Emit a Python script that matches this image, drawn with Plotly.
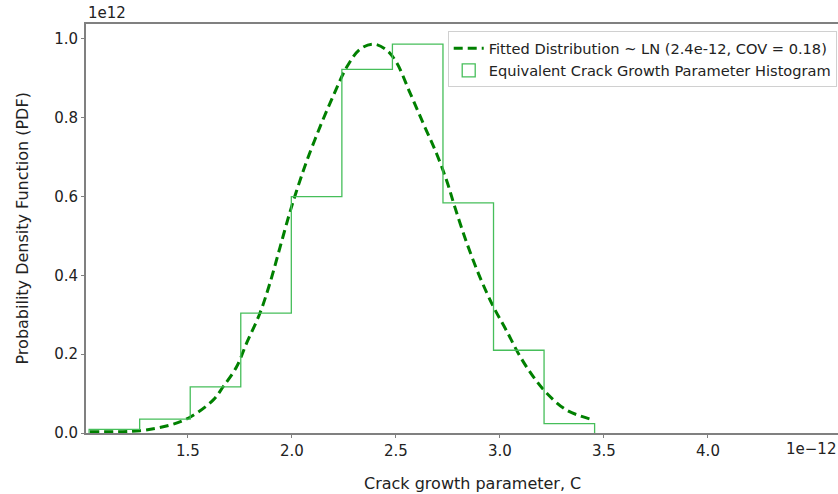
import plotly.graph_objects as go

# Histogram (x in units of 1e-12, density in units of 1e12)
bin_edges = [1.025, 1.268, 1.511, 1.754, 1.997, 2.240, 2.483, 2.726, 2.969, 3.212, 3.455]
bin_heights = [0.009, 0.035, 0.117, 0.304, 0.600, 0.923, 0.987, 0.584, 0.210, 0.024]

# Fitted lognormal curve
curve_x = [1.029, 1.269, 1.413, 1.51, 1.622, 1.67, 1.734, 1.782, 1.846, 1.894, 1.942, 1.99,
           2.03, 2.071, 2.135, 2.199, 2.263, 2.327, 2.391, 2.455, 2.503, 2.567, 2.631, 2.696,
           2.744, 2.784, 2.84, 2.904, 2.968, 3.032, 3.096, 3.16, 3.225, 3.321, 3.449]
curve_y = [0.003, 0.006, 0.020, 0.040, 0.084, 0.118, 0.168, 0.228, 0.304, 0.380, 0.470, 0.560,
           0.627, 0.690, 0.777, 0.856, 0.928, 0.974, 0.987, 0.972, 0.940, 0.864, 0.786, 0.708,
           0.640, 0.572, 0.483, 0.395, 0.321, 0.259, 0.195, 0.143, 0.101, 0.058, 0.033]

x_ticks = [1.5, 2.0, 2.5, 3.0, 3.5, 4.0]
y_ticks = [0.0, 0.2, 0.4, 0.6, 0.8, 1.0]

fit_label = "Fitted Distribution ~ LN (2.4e-12, COV = 0.18)"
hist_label = "Equivalent Crack Growth Parameter Histogram"

hist_color = "rgb(70,190,90)"
fit_color = "#008000"
font_main = "DejaVu Sans"

step_x = [bin_edges[0]] + bin_edges
step_y = [0] + bin_heights + [0]

fig = go.Figure()
fig.add_trace(go.Scatter(x=curve_x, y=curve_y, mode="lines", name=fit_label,
                         line=dict(color=fit_color, width=3, dash="9px,5px", shape="spline", smoothing=1.0)))
fig.add_trace(go.Scatter(x=step_x, y=step_y, mode="lines", showlegend=False,
                         line=dict(color=hist_color, width=1.3, shape="hv")))
fig.add_trace(go.Scatter(x=[None], y=[None], mode="markers", name=hist_label,
                         marker=dict(symbol="square-open", size=13, color=hist_color,
                                     line=dict(width=1.3, color=hist_color))))

fig.update_layout(
    width=838, height=494,
    margin=dict(l=86, r=0, t=24, b=61),
    paper_bgcolor="white", plot_bgcolor="white",
    font=dict(family=font_main, size=15, color="#222222"),
    showlegend=True,
    legend=dict(x=0.481, y=0.982, xanchor="left", yanchor="top",
                bgcolor="white", bordercolor="#d0d0d0", borderwidth=1,
                font=dict(family=font_main, size=14.6, color="#222222"),
                tracegroupgap=2, itemwidth=30),
    xaxis=dict(range=[1.010, 4.625], tickvals=x_ticks, ticktext=[f"{v:.1f}" for v in x_ticks],
               showgrid=False, zeroline=False, showline=True, linecolor="#808080", linewidth=1.8,
               mirror=True, ticks="outside", ticklen=3, tickcolor="#808080",
               tickfont=dict(size=15, color="#222222")),
    yaxis=dict(range=[0, 1.038], tickvals=y_ticks, ticktext=[f"{v:.1f}" for v in y_ticks],
               showgrid=False, zeroline=False, showline=True, linecolor="#808080", linewidth=1.8,
               ticks="outside", ticklen=3, tickcolor="#808080",
               tickfont=dict(size=15, color="#222222")),
    annotations=[
        dict(text="1e12", xref="paper", yref="paper", x=0.0, y=1.0, xanchor="left", yanchor="bottom",
             showarrow=False, font=dict(size=15, color="#222222")),
        dict(text="1e\u221212", xref="paper", yref="paper", x=1.0, y=-0.012, xanchor="right", yanchor="top",
             showarrow=False, font=dict(size=15, color="#222222")),
        dict(text="Crack growth parameter, C", xref="paper", yref="paper", x=(472 - 86) / 752, y=-0.095,
             xanchor="center", yanchor="top", showarrow=False, font=dict(size=16, color="#222222")),
        dict(text="Probability Density Function (PDF)", xref="paper", yref="paper", x=(22 - 86) / 752, y=0.5,
             xanchor="center", yanchor="middle", textangle=-90, showarrow=False,
             font=dict(size=16, color="#222222")),
    ],
)

fig.write_html("out.html")
